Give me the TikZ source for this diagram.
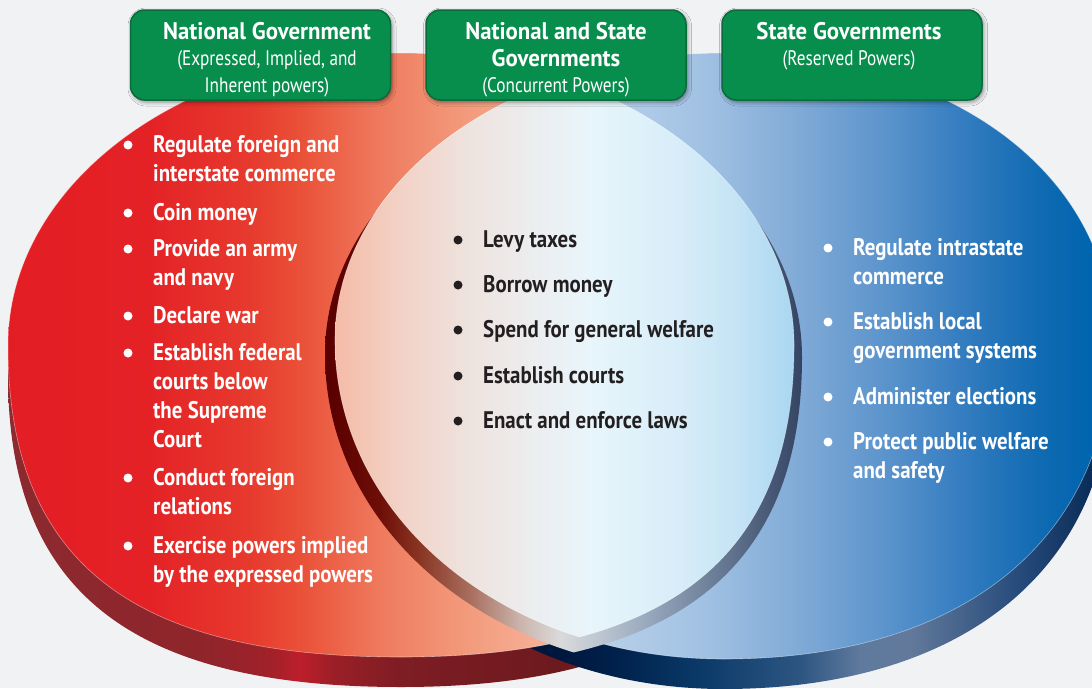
\documentclass[tikz,border=0pt]{standalone}
\usepackage{fontspec}
\usetikzlibrary{shadows.blur}
\newfontfamily\condbody{PT Sans}[FakeStretch=0.87]
\newfontfamily\condhead{PT Sans}[FakeStretch=0.95]
\newfontfamily\condsub{PT Sans}[FakeStretch=0.82]

% palette
\definecolor{bg}{HTML}{F1F2F4}
\definecolor{ink}{HTML}{231F20}
\definecolor{boxgreen}{HTML}{078E4D}
\definecolor{boxedge}{HTML}{0B6A3A}
\definecolor{lfA}{HTML}{E31D24}\definecolor{lfB}{HTML}{E42226}\definecolor{lfC}{HTML}{E73A2E}
\definecolor{lfD}{HTML}{EA5038}\definecolor{lfE}{HTML}{EF7A5E}\definecolor{lfF}{HTML}{F29576}
\definecolor{lfG}{HTML}{F5AA8F}\definecolor{lfH}{HTML}{F7BBA5}\definecolor{lfI}{HTML}{F8C8B5}
\definecolor{rfA}{HTML}{DCE9F5}\definecolor{rfB}{HTML}{B8D0EA}\definecolor{rfC}{HTML}{A2C2E3}
\definecolor{rfD}{HTML}{80AAD6}\definecolor{rfE}{HTML}{5892CB}\definecolor{rfF}{HTML}{3A80C2}
\definecolor{rfG}{HTML}{2273B9}\definecolor{rfH}{HTML}{0C69B1}\definecolor{rfI}{HTML}{0064AE}
\definecolor{lrA}{HTML}{8C2A30}\definecolor{lrB}{HTML}{8E252B}\definecolor{lrC}{HTML}{A0212A}
\definecolor{lrD}{HTML}{BC1F2B}\definecolor{lrE}{HTML}{9A1F27}\definecolor{lrF}{HTML}{7E1D24}
\definecolor{lrG}{HTML}{6C1A1E}
\definecolor{rrA}{HTML}{00173D}\definecolor{rrB}{HTML}{00224D}\definecolor{rrC}{HTML}{0B3A68}
\definecolor{rrD}{HTML}{2D5582}\definecolor{rrE}{HTML}{5F7A9D}\definecolor{rrF}{HTML}{62799B}
\definecolor{rrG}{HTML}{46648C}\definecolor{rrH}{HTML}{264A7A}\definecolor{rrI}{HTML}{0A2C58}
\definecolor{mrA}{HTML}{5A0000}\definecolor{mrB}{HTML}{6E0E08}\definecolor{mrC}{HTML}{8A3624}
\definecolor{mrD}{HTML}{A86E5E}\definecolor{mrE}{HTML}{CBB4AC}\definecolor{mrF}{HTML}{DADADA}
\definecolor{mrG}{HTML}{BCC6D2}\definecolor{mrH}{HTML}{96A6BC}\definecolor{mrI}{HTML}{74879F}
\definecolor{mrJ}{HTML}{4E5F7C}\definecolor{mrK}{HTML}{2F3F5E}
\definecolor{mfA}{HTML}{F5BAA5}\definecolor{mfB}{HTML}{F2D2C6}\definecolor{mfC}{HTML}{EEE3DF}
\definecolor{mfD}{HTML}{ECEDEE}\definecolor{mfE}{HTML}{E8F5FB}\definecolor{mfF}{HTML}{D7EDF8}
\definecolor{mfG}{HTML}{C4E3F5}\definecolor{mfH}{HTML}{A6D5F0}

% horizontal shadings, laid over a 0..1092 wide strip (25bp..75bp)
\pgfdeclarehorizontalshading{leftface}{100bp}{color(0bp)=(lfA); color(25bp)=(lfA); color(31.87bp)=(lfB);
  color(36.45bp)=(lfC); color(38.74bp)=(lfD); color(42.40bp)=(lfE); color(45.60bp)=(lfF);
  color(48.81bp)=(lfG); color(52.47bp)=(lfH); color(75bp)=(lfI); color(100bp)=(lfI)}
\pgfdeclarehorizontalshading{rightface}{100bp}{color(0bp)=(rfA); color(25bp)=(rfA); color(52.47bp)=(rfB);
  color(57.05bp)=(rfC); color(61.63bp)=(rfD); color(65.84bp)=(rfE); color(68.50bp)=(rfF);
  color(70.79bp)=(rfG); color(73.08bp)=(rfH); color(75bp)=(rfI); color(100bp)=(rfI)}
\pgfdeclarehorizontalshading{leftrim}{100bp}{color(0bp)=(lrA); color(25bp)=(lrA); color(34.16bp)=(lrB);
  color(37.36bp)=(lrC); color(38.74bp)=(lrD); color(40.34bp)=(lrE); color(43.32bp)=(lrF);
  color(50.64bp)=(lrG); color(100bp)=(lrG)}
\pgfdeclarehorizontalshading{rightrim}{100bp}{color(0bp)=(rrA); color(50.64bp)=(rrA); color(53.39bp)=(rrB);
  color(57.05bp)=(rrC); color(61.63bp)=(rrD); color(64.38bp)=(rrE); color(66.67bp)=(rrF);
  color(68.96bp)=(rrG); color(71.70bp)=(rrH); color(75bp)=(rrI); color(100bp)=(rrI)}
\pgfdeclarehorizontalshading{lensrim}{100bp}{color(0bp)=(mrA); color(40.11bp)=(mrA); color(42.40bp)=(mrB);
  color(44.23bp)=(mrC); color(46.52bp)=(mrD); color(48.81bp)=(mrE); color(50.64bp)=(mrF);
  color(52.47bp)=(mrG); color(54.76bp)=(mrH); color(57.05bp)=(mrI); color(59.80bp)=(mrJ);
  color(62.09bp)=(mrK); color(100bp)=(mrK)}
\pgfdeclarehorizontalshading{lensface}{100bp}{color(0bp)=(mfA); color(40.11bp)=(mfA); color(43.32bp)=(mfB);
  color(46.52bp)=(mfC); color(49.27bp)=(mfD); color(52.01bp)=(mfE); color(56.14bp)=(mfF);
  color(58.88bp)=(mfG); color(61.63bp)=(mfH); color(100bp)=(mfH)}

% outlines of the two discs (top face)
\def\leftdisc{(8,345) .. controls (8,183.7) and (183.9,53) .. (401,53)
  .. controls (618.1,53) and (794,183.7) .. (794,345)
  .. controls (794,557.2) and (668.2,657) .. (401,657)
  .. controls (129.8,657) and (8,560.3) .. (8,345) -- cycle}
\def\rightdisc{(335,340) .. controls (335,181.5) and (509,53) .. (723.5,53)
  .. controls (948.8,53) and (1112,173.5) .. (1112,340)
  .. controls (1112,537.8) and (964.4,659) .. (723.5,659)
  .. controls (506,659) and (335,519) .. (335,340) -- cycle}
\def\strip{(0,-60) rectangle (1092,760)}

\tikzset{
  item/.style={anchor=base west, inner sep=0pt, align=left, text=white,
    font=\condbody\bfseries\fontsize{24}{29.3}\selectfont},
  lensitem/.style={item, text=ink},
  bul/.style={circle, fill=white, inner sep=0pt, minimum size=9pt},
  lensbul/.style={bul, fill=ink},
  govbox/.style={rounded corners=14pt, fill=boxgreen, draw=boxedge, line width=1.5pt,
    minimum width=260pt, minimum height=90pt,
    blur shadow={shadow xshift=1.5pt, shadow yshift=-2pt, shadow blur radius=4pt, shadow opacity=45}},
  boxtitle/.style={anchor=base, inner sep=0pt, text=white, font=\condhead\bfseries\fontsize{24}{27}\selectfont},
  boxsub/.style={anchor=base, inner sep=0pt, text=white, font=\condsub\fontsize{21}{27}\selectfont},
  sheen/.style={draw=white, draw opacity=0.45, line width=0.6pt}
}

\begin{document}
\begin{tikzpicture}[x=1pt, y=-1pt]
\fill[bg] (0,0) rectangle (1092,688);
\useasboundingbox (0,0) rectangle (1092,688);

% disc thickness (rims), drawn under the faces
\begin{scope}
  \clip[shift={(0,30)}] \leftdisc; \shade[shading=leftrim] \strip;
\end{scope}
\begin{scope}
  \clip[shift={(0,30)}] \rightdisc; \shade[shading=rightrim] \strip;
\end{scope}

% top faces
\begin{scope}
  \clip \leftdisc; \shade[shading=leftface] \strip;
\end{scope}
\path[sheen] \leftdisc;
\begin{scope}
  \clip \rightdisc; \shade[shading=rightface] \strip;
\end{scope}
\path[sheen] \rightdisc;

% raised overlap: its rim, then its face
\begin{scope}
  \clip[shift={(8,12)}] \leftdisc;
  \clip[shift={(-10,14)}] \rightdisc;
  \shade[shading=lensrim] \strip;
\end{scope}
\begin{scope}
  \clip \leftdisc; \clip \rightdisc; \shade[shading=lensface] \strip;
\end{scope}
\begin{scope}
  \clip \leftdisc; \path[sheen] \rightdisc;
\end{scope}
\begin{scope}
  \clip \rightdisc; \path[sheen] \leftdisc;
\end{scope}

% headings
\node[govbox] (natbox) at (260.5,55) {};
\node[govbox] (bothbox) at (556,55) {};
\node[govbox] (statebox) at (852,55) {};
\node[boxtitle] (nat1) at (267,39) {National Government};
\node[boxsub]   (nat2) at (267,65) {(Expressed, Implied, and};
\node[boxsub]   (nat3) at (267,92) {Inherent powers)};
\node[boxtitle] (both1) at (556,39) {National and State};
\node[boxtitle] (both2) at (556,66) {Governments};
\node[boxsub]   (both3) at (556,92) {(Concurrent Powers)};
\node[boxtitle] (st1) at (849,39) {State Governments};
\node[boxsub]   (st2) at (849,65) {(Reserved Powers)};

% national powers (each node sits on the baseline of its last line)
\node[bul] (nb1) at (128,145) {};
\node[item] (n1) at (153,181.3) {Regulate foreign and\\interstate commerce};
\node[bul] (nb2) at (128,213) {};
\node[item] (n2) at (153,220) {Coin money};
\node[bul] (nb3) at (128,249) {};
\node[item] (n3) at (153,285.3) {Provide an army\\and navy};
\node[bul] (nb4) at (128,316) {};
\node[item] (n4) at (153,323) {Declare war};
\node[bul] (nb5) at (128,353) {};
\node[item] (n5) at (153,447.9) {Establish federal\\courts below\\the Supreme\\Court};
\node[bul] (nb6) at (128,478) {};
\node[item] (n6) at (153,514.3) {Conduct foreign\\relations};
\node[bul] (nb7) at (128,546) {};
\node[item] (n7) at (153,582.3) {Exercise powers implied\\by the expressed powers};

% concurrent powers
\node[lensbul] (cb1) at (458,240) {};
\node[lensitem] (c1) at (483,247) {Levy taxes};
\node[lensbul] (cb2) at (458,285) {};
\node[lensitem] (c2) at (483,292) {Borrow money};
\node[lensbul] (cb3) at (458,330) {};
\node[lensitem] (c3) at (483,337) {Spend for general welfare};
\node[lensbul] (cb4) at (458,376) {};
\node[lensitem] (c4) at (483,383) {Establish courts};
\node[lensbul] (cb5) at (458,421) {};
\node[lensitem] (c5) at (483,428) {Enact and enforce laws};

% reserved powers
\node[bul] (sb1) at (828,248) {};
\node[item] (s1) at (853,284.3) {Regulate intrastate\\commerce};
\node[bul] (sb2) at (828,322) {};
\node[item] (s2) at (853,358.3) {Establish local\\government systems};
\node[bul] (sb3) at (828,397) {};
\node[item] (s3) at (853,404) {Administer elections};
\node[bul] (sb4) at (828,442) {};
\node[item] (s4) at (853,478.3) {Protect public welfare\\and safety};
\end{tikzpicture}
\end{document}
